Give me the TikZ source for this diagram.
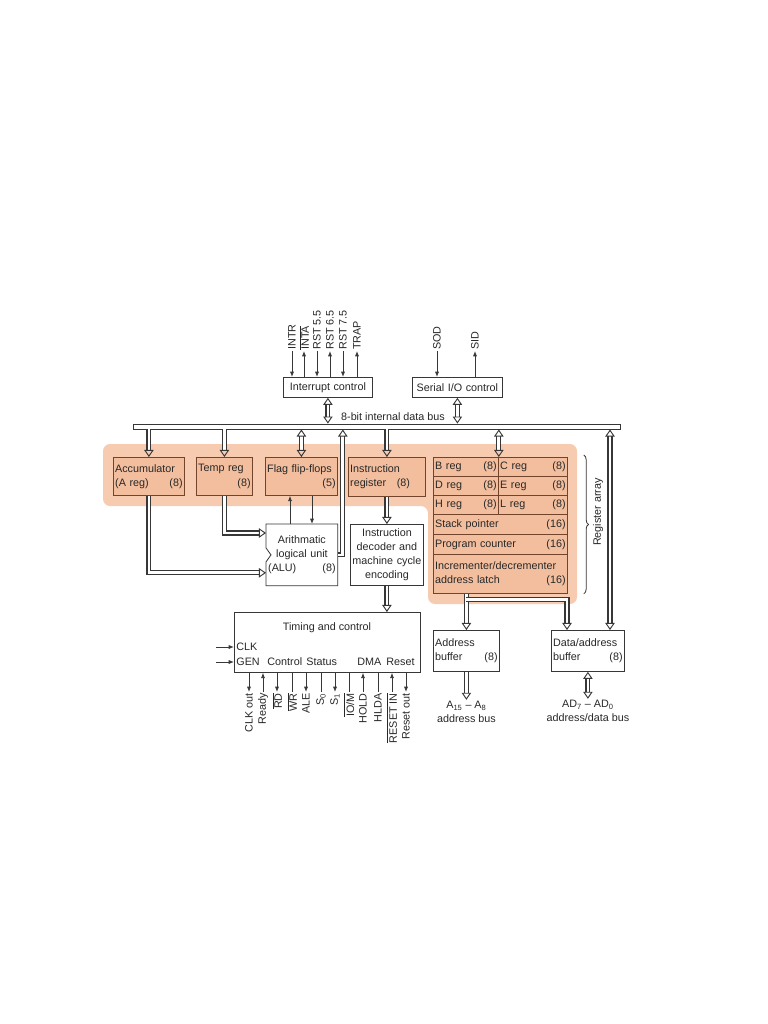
\documentclass[tikz,border=0pt]{standalone}
\usepackage{fontspec}
\setmainfont{Liberation Sans}
\usetikzlibrary{arrows.meta,positioning,calc,decorations.pathreplacing}
\definecolor{band}{RGB}{247,203,176}
\definecolor{regfill}{RGB}{243,190,158}
\definecolor{regline}{RGB}{115,68,44}
\definecolor{linec}{RGB}{55,55,55}
\definecolor{txt}{RGB}{40,40,40}

\begin{document}
\begin{tikzpicture}[
    x=0.03cm, y=-0.03cm,
    every node/.style={font=\fontsize{9.2}{12}\selectfont, text=txt},
    lbl/.style={inner sep=1pt},
    box/.style={draw=linec, fill=white, line width=0.7pt, anchor=north west, inner xsep=1.5pt, inner ysep=0pt, align=left},
    regbox/.style={box, draw=regline, fill=regfill},
    bsize/.style 2 args={/utils/exec={\pgfmathsetlengthmacro\boxtw{#1*0.03cm-3pt}}, text width=\boxtw, minimum height=#2*0.03cm},
    dbl/.style={draw=linec, line width=1pt, double=white, double distance=2.3pt},
    dend/.style={dbl, -{Triangle[open, length=6pt, width=8pt, line width=0.8pt]}},
    dboth/.style={dbl, {Triangle[open, length=6pt, width=8pt, line width=0.8pt]}-{Triangle[open, length=6pt, width=8pt, line width=0.8pt]}},
    sigdn/.style={draw=linec, line width=0.7pt, -{Latex[length=4.5pt, width=3.5pt]}},
    sigup/.style={draw=linec, line width=0.7pt, {Latex[length=4.5pt, width=3.5pt]}-},
    signo/.style={draw=linec, line width=0.7pt}
  ]
  \fill[white] (0,0) rectangle (768,1024);
  \useasboundingbox (0,0) rectangle (768,1024);

  % register band
  \fill[band, rounded corners=6pt] (103,444) -- (577,444) -- (577,604) -- (428,604) -- (428,506) -- (103,506) -- cycle;

  \node[box, bsize={89}{20}, align=center] (intc) at (283,377) {Interrupt control};
  \node[box, bsize={90}{20}, align=center] (sio) at (412,377) {Serial I/O control};

  \node[draw=linec, fill=white, line width=0.8pt, minimum width=487*0.03cm, minimum height=5*0.03cm, inner sep=0pt] (bus) at (376.5,426.5) {};
  \node[lbl] (buslbl) at (393,417) {8-bit internal data bus};

  \node[regbox, bsize={71}{38}] (acc) at (113,457) {Accumulator\\(A reg)\hfill(8)};
  \node[regbox, bsize={56}{38}] (tmp) at (196,457) {Temp reg\\\mbox{}\hfill(8)};
  \node[regbox, bsize={72}{38}] (flag) at (265,457) {Flag flip-flops\\\mbox{}\hfill(5)};
  \node[regbox, bsize={77}{39}] (ir) at (348,457) {Instruction\\register\quad(8)};

  \node[regbox, bsize={65}{19}] (breg) at (433,457) {B reg\hfill(8)};
  \node[regbox, bsize={69}{19}] (creg) at (498,457) {C reg\hfill(8)};
  \node[regbox, bsize={65}{19}] (dreg) at (433,476) {D reg\hfill(8)};
  \node[regbox, bsize={69}{19}] (ereg) at (498,476) {E reg\hfill(8)};
  \node[regbox, bsize={65}{19}] (hreg) at (433,495) {H reg\hfill(8)};
  \node[regbox, bsize={69}{19}] (lreg) at (498,495) {L reg\hfill(8)};
  \node[regbox, bsize={134}{20}] (stk) at (433,514) {Stack pointer\hfill(16)};
  \node[regbox, bsize={134}{20}] (pc) at (433,534) {Program counter\hfill(16)};
  \node[regbox, bsize={134}{39}] (incr) at (433,554) {Incrementer/decrementer\\address latch\hfill(16)};

  \draw[linec, line width=0.7pt, decorate, decoration={brace, amplitude=4pt}] ($(creg.north east)+(16,-2)$) -- ($(incr.south east)+(16,0)$);
  \node[lbl, rotate=90] (ralbl) at (598,512) {Register array};

  \node[box, draw=none, bsize={71}{61}, align=center] (alu) at (266,524) {Arithmatic\\logical unit\\(ALU)\hskip 0pt plus 1filll (8)};
  \draw[linec, line width=0.7pt] (alu.north west) -- ($(alu.west)+(0,-7)$) -- ($(alu.west)+(5,0)$) -- ($(alu.west)+(0,7)$) -- (alu.south west) -- (alu.south east) -- (alu.north east) -- cycle;
  \node[box, bsize={73}{61}, align=center, inner xsep=0pt, text width=73*0.03cm] (dec) at (350,524) {Instruction\\decoder and\\machine~cycle\\encoding};

  \node[box, bsize={186}{60}] (tc) at (234,612) {};
  \node[lbl] (tctitle) at (327,628) {Timing and control};
  \node[lbl, anchor=west] (clk) at (235,647) {CLK};
  \node[lbl, anchor=west] (gen) at (235,662) {GEN};
  \node[lbl, anchor=west] (ctrl) at (266,662) {Control};
  \node[lbl, anchor=west] (stat) at (305,662) {Status};
  \node[lbl, anchor=west] (dma) at (356,662) {DMA};
  \node[lbl, anchor=west] (rst) at (385,662) {Reset};

  \node[box, bsize={66}{41}] (abuf) at (433,630) {Address\\buffer\hfill(8)};
  \node[box, bsize={73}{41}] (dbuf) at (551,630) {Data/address\\buffer\hfill(8)};

  \coordinate (dbufa) at ($(dbuf.north west)+(16,0)$);
  \coordinate (dbufb) at ($(dbuf.north west)+(59,0)$);
  \coordinate (abus) at ($(abuf.south)+(0,28)$);
  \coordinate (adbus) at ($(dbuf.south)+(0,27)$);
  \coordinate (aluup) at ($(alu.east)+(5,0)$);
  \coordinate (aluin1) at ($(alu.north west)+(0,9)$);
  \coordinate (aluin2) at ($(alu.south west)+(0,-13)$);
  \coordinate (fl1) at ($(alu.north west)+(24,0)$);
  \coordinate (fl2) at ($(alu.north west)+(46,0)$);
  \coordinate (clkin) at (216,647);
  \coordinate (genin) at (216,662);

  % bus connections
  \draw[dboth] (intc.south) -- (intc.south |- bus.north);
  \draw[dboth] (sio.south) -- (sio.south |- bus.north);
  \draw[dend] (bus.south -| acc.north) -- (acc.north);
  \draw[dend] (bus.south -| tmp.north) -- (tmp.north);
  \draw[dboth] (bus.south -| flag.north) -- (flag.north);
  \draw[dend] (bus.south -| ir.north) -- (ir.north);
  \draw[dboth] (bus.south -| breg.north east) -- (breg.north east);
  \draw[dboth] (bus.south -| dbufb) -- (dbufb);
  \draw[dend] (alu.east) -- (aluup) -- (aluup |- bus.south);

  \draw[dend] (tmp.south) |- (aluin1);
  \draw[dend] (acc.south) |- (aluin2);
  \draw[sigdn] (fl1) -- (fl1 |- flag.south);
  \draw[sigdn] (fl2 |- flag.south) -- (fl2);
  \draw[dend] (ir.south) -- (ir.south |- dec.north);
  \draw[dend] (dec.south) -- (dec.south |- tc.north);

  \draw[dend] (abuf.north |- incr.south) -- (abuf.north);
  \draw[dend] ($(abuf.north |- incr.south)+(0,6)$) -| (dbufa);
  \draw[dend] (abuf.south) -- (abus);
  \draw[dboth] (dbuf.south) -- (adbus);
  \node[lbl, anchor=north, align=center] (abuslbl) at (abus) {A\textsubscript{15} -- A\textsubscript{8}\\address bus};
  \node[lbl, anchor=north, align=center] (adbuslbl) at (adbus) {AD\textsubscript{7} -- AD\textsubscript{0}\\address/data bus};

  % pins
  \foreach \xx/\lab/\dd [count=\i] in {292/INTR/sigdn, 304/{$\overline{\mbox{INTA}}$}/sigup, 317/RST 5.5/sigdn, 330/RST 6.5/sigup, 343/RST 7.5/sigdn, 357/TRAP/sigup}{
    \node[lbl, rotate=90, anchor=west] (irq\i) at (\xx,351) {\lab};
    \draw[\dd] (irq\i.west) -- (irq\i.west |- intc.north);
  }
  \node[lbl, rotate=90, anchor=west] (sod) at (437,351) {SOD};
  \node[lbl, rotate=90, anchor=west] (sid) at (475,351) {SID};
  \draw[sigdn] (sod.west) -- (sod.west |- sio.north);
  \draw[sigup] (sid.west) -- (sid.west |- sio.north);

  \draw[sigdn] (clkin) -- (clkin -| tc.west);
  \draw[sigdn] (genin) -- (genin -| tc.west);
  \foreach \xx/\lab/\dd [count=\i] in {249/CLK out/sigdn, 263/Ready/sigup, 277/{$\overline{\mbox{RD}}$}/sigdn, 292/{$\overline{\mbox{WR}}$}/signo, 306/ALE/sigdn, 321/S\textsubscript{0}/signo, 335/S\textsubscript{1}/sigdn, 349/{$\overline{\mbox{IO/M}}$}/signo, 363/HOLD/sigup, 378/HLDA/signo, 392/{$\overline{\mbox{RESET IN}}$}/sigup, 406/Reset out/sigdn}{
    \node[lbl, rotate=90, anchor=east] (ctl\i) at (\xx,692) {\lab};
    \draw[\dd] (ctl\i.east |- tc.south) -- (ctl\i.east);
  }
\end{tikzpicture}
\end{document}
